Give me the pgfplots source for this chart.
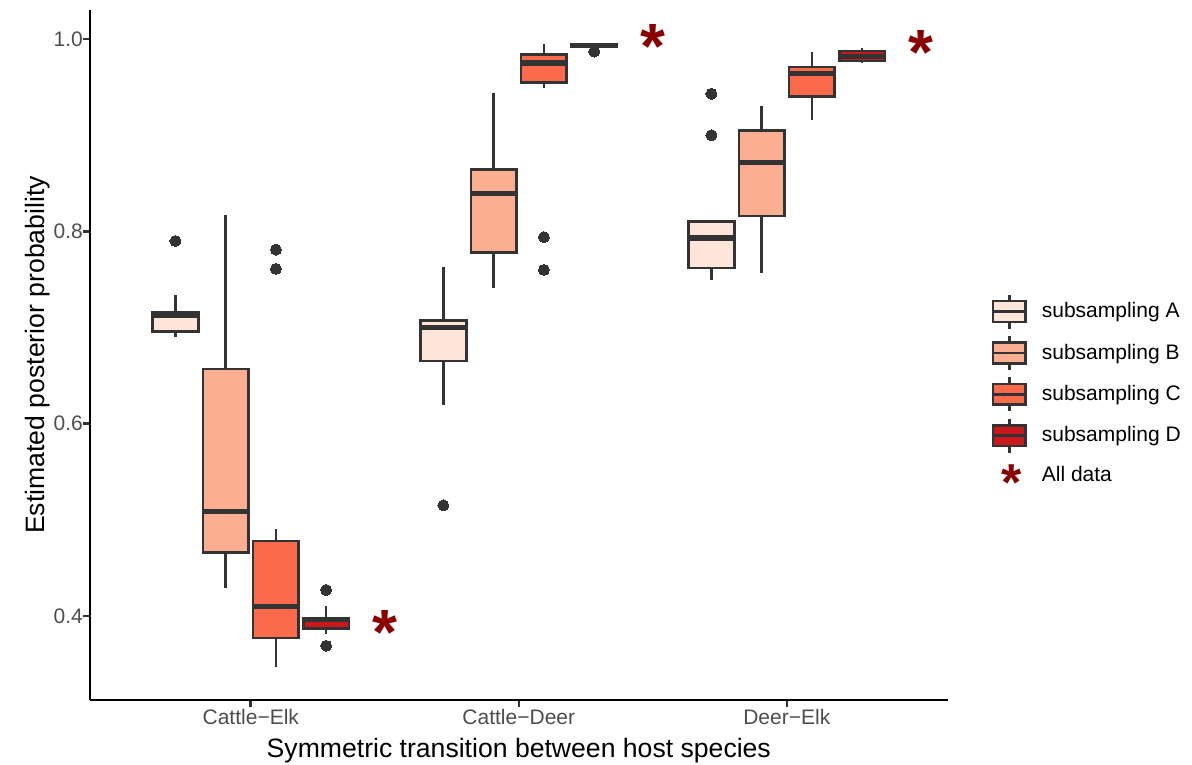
\documentclass[border=0pt]{standalone}
\usepackage{fontspec}
\setmainfont{Liberation Sans}
\usepackage{pgfplots}
\pgfplotsset{compat=1.18}
\usepgfplotslibrary{statistics}
\definecolor{colA}{HTML}{FEE5D9}
\definecolor{colB}{HTML}{FCAE91}
\definecolor{colC}{HTML}{FB6A4A}
\definecolor{colD}{HTML}{CB181D}
\definecolor{darkred}{HTML}{8B0000}
\definecolor{gray20}{HTML}{333333}
\definecolor{gray30}{HTML}{4D4D4D}
\pgfplotsset{
  mybox/.style={draw=gray20, line width=1.3bp, solid, forget plot,
    mark=*, mark size=2.75bp,
    mark options={draw=gray20, fill=gray20, line width=0pt},
    boxplot/draw direction=y,
    boxplot/box extend=0.17, boxplot/whisker extend=0,
    boxplot/every median/.style={line width=2.6bp}},
  boxkey/.style={legend image code/.code={
    \path[draw=none, fill=none] (0bp,-10.35bp) rectangle (16.3bp,10.35bp);
    \draw[gray20, line width=1.3bp] (8.15bp,-8.5bp) -- (8.15bp,8.5bp);
    \draw[gray20, fill=#1, line width=1.3bp] (0bp,-5.2bp) rectangle (16.3bp,5.2bp);
    \draw[gray20, line width=1.3bp] (0bp,0bp) -- (16.3bp,0bp);
  }},
}
\begin{document}
\begin{tikzpicture}
\begin{axis}[
  scale only axis, width=428.8bp, height=345bp,
  xmin=0.4, xmax=3.6, ymin=0.3126, ymax=1.0302,
  clip=false,
  axis x line*=bottom, axis y line*=left,
  axis line style={-, line width=1.3bp, black},
  xtick={1,2,3}, xticklabels={Cattle−Elk, Cattle−Deer, Deer−Elk},
  ytick={0.4,0.6,0.8,1.0},
  minor tick num=0,
  tick align=outside, major tick length=3.35bp,
  tick style={gray20, line width=1.3bp},
  /pgf/number format/assume math mode=true,
  yticklabel style={/pgf/number format/fixed, /pgf/number format/fixed zerofill, /pgf/number format/precision=1},
  ticklabel style={font=\fontsize{10.5bp}{12bp}\selectfont, text=gray30, inner sep=0pt},
  xticklabel style={anchor=north, yshift=-1bp},
  yticklabel style={anchor=east},
  xlabel={Symmetric transition between host species},
  ylabel={Estimated posterior probability},
  label style={font=\fontsize{13.3bp}{15bp}\selectfont, inner sep=0pt},
  xlabel style={at={(axis description cs:0.5,-0.0739)}, anchor=center},
  ylabel style={at={(axis description cs:-0.0607,0.5)}, anchor=center},
  legend style={at={(rel axis cs:1.0514,0.593)}, anchor=north west, draw=none, fill=none,
    inner sep=0pt, outer sep=0pt, row sep=0pt, column sep=7.5bp,
    font=\fontsize{10.5bp}{12bp}\selectfont,
    nodes={inner sep=0pt}},
  legend cell align=left,
]
\coordinate (SW) at (rel axis cs:0,0);
% ---- Cattle-Elk
\addplot[mybox, fill=colA, boxplot prepared={draw position=0.71875, lower whisker=0.690, lower quartile=0.696, median=0.713, upper quartile=0.716, upper whisker=0.734}] coordinates {(0,0.790)};
\addplot[mybox, fill=colB, boxplot prepared={draw position=0.90625, lower whisker=0.429, lower quartile=0.466, median=0.509, upper quartile=0.657, upper whisker=0.817}] coordinates {};
\addplot[mybox, fill=colC, boxplot prepared={draw position=1.09375, lower whisker=0.347, lower quartile=0.377, median=0.410, upper quartile=0.478, upper whisker=0.490}] coordinates {(0,0.781) (0,0.761)};
\addplot[mybox, fill=colD, boxplot prepared={draw position=1.28125, lower whisker=0.381, lower quartile=0.387, median=0.396, upper quartile=0.398, upper whisker=0.410}] coordinates {(0,0.427) (0,0.369)};
% ---- Cattle-Deer
\addplot[mybox, fill=colA, boxplot prepared={draw position=1.71875, lower whisker=0.619, lower quartile=0.665, median=0.700, upper quartile=0.707, upper whisker=0.763}] coordinates {(0,0.515)};
\addplot[mybox, fill=colB, boxplot prepared={draw position=1.90625, lower whisker=0.741, lower quartile=0.778, median=0.839, upper quartile=0.864, upper whisker=0.944}] coordinates {};
\addplot[mybox, fill=colC, boxplot prepared={draw position=2.09375, lower whisker=0.949, lower quartile=0.955, median=0.975, upper quartile=0.984, upper whisker=0.9945}] coordinates {(0,0.794) (0,0.760)};
\addplot[mybox, fill=colD, boxplot prepared={draw position=2.28125, lower whisker=0.991, lower quartile=0.992, median=0.993, upper quartile=0.994, upper whisker=0.995}] coordinates {(0,0.987)};
% ---- Deer-Elk
\addplot[mybox, fill=colA, boxplot prepared={draw position=2.71875, lower whisker=0.749, lower quartile=0.762, median=0.793, upper quartile=0.810, upper whisker=0.810}] coordinates {(0,0.943) (0,0.900)};
\addplot[mybox, fill=colB, boxplot prepared={draw position=2.90625, lower whisker=0.757, lower quartile=0.816, median=0.872, upper quartile=0.905, upper whisker=0.930}] coordinates {};
\addplot[mybox, fill=colC, boxplot prepared={draw position=3.09375, lower whisker=0.916, lower quartile=0.940, median=0.964, upper quartile=0.971, upper whisker=0.987}] coordinates {};
\addplot[mybox, fill=colD, boxplot prepared={draw position=3.28125, lower whisker=0.975, lower quartile=0.977, median=0.982, upper quartile=0.9875, upper whisker=0.991}] coordinates {};
% ---- All data
\addplot[forget plot, only marks, mark=text,
  text mark={\fontsize{32bp}{32bp}\selectfont\bfseries\color{darkred}\smash{\raisebox{-0.49em}{*}}}]
  coordinates {(1.5,0.393) (2.5,1.002) (3.5,0.9955)};
\addlegendimage{boxkey=colA}\addlegendentry{subsampling A}
\addlegendimage{boxkey=colB}\addlegendentry{subsampling B}
\addlegendimage{boxkey=colC}\addlegendentry{subsampling C}
\addlegendimage{boxkey=colD}\addlegendentry{subsampling D}
\addlegendimage{legend image code/.code={
    \path[draw=none, fill=none] (0bp,-9.4bp) rectangle (16.3bp,9.4bp);
    \node[inner sep=0pt, text=darkred, font=\fontsize{26bp}{26bp}\selectfont\bfseries] at (4.3bp,-1.2bp) {\smash{\raisebox{-0.47em}{*}}};
  }}\addlegendentry{All data}
\end{axis}
\pgfresetboundingbox
\path ([shift={(-45bp,-32.5bp)}]SW) rectangle ([shift={(551bp,350bp)}]SW);
\end{tikzpicture}
\end{document}
